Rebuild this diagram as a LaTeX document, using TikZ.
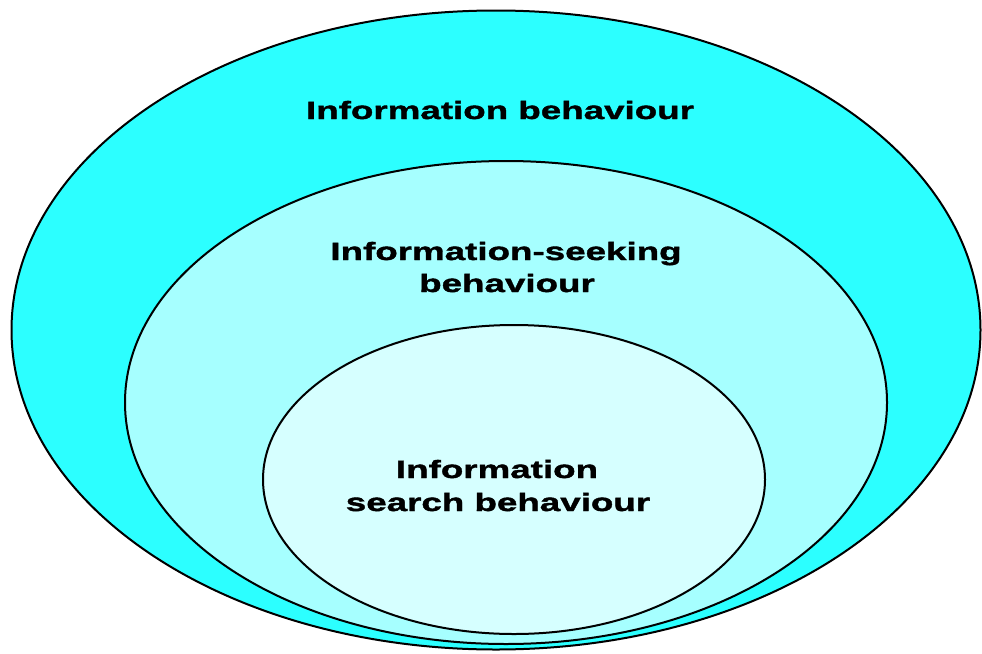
\documentclass[tikz,border=0pt]{standalone}
\usepackage{fontspec}
\usetikzlibrary{shapes.geometric}
\newfontfamily\labelfont{Liberation Sans}[FakeStretch=1.47,BoldFeatures={FakeBold=1.5}]
\definecolor{outerc}{RGB}{44,255,255}
\definecolor{midc}{RGB}{166,255,255}
\definecolor{innerc}{RGB}{214,255,255}
\tikzset{
  ring/.style={ellipse, draw=black, line width=2pt, inner sep=0pt},
  lbl/.style={anchor=base, inner sep=0pt, font=\labelfont\bfseries\fontsize{25}{32}\selectfont}
}
\begin{document}
\begin{tikzpicture}[x=1pt,y=-1pt]
\useasboundingbox[fill=white] (0,0) rectangle (982,653);
\node[ring, fill=outerc, minimum width=969pt, minimum height=639pt] (outer) at (496,330) {};
\node[ring, fill=midc, minimum width=762pt, minimum height=483pt] (middle) at (506,402.5) {};
\node[ring, fill=innerc, minimum width=502pt, minimum height=309pt] (inner) at (514,479.5) {};
\node[lbl] (ib) at (500,119) {Information behaviour};
\node[lbl] (isb1) at (506,260) {Information-seeking};
\node[lbl] (isb2) at (507,292) {behaviour};
\node[lbl] (sb1) at (497,478) {Information};
\node[lbl] (sb2) at (498,511) {search behaviour};
\end{tikzpicture}
\end{document}
